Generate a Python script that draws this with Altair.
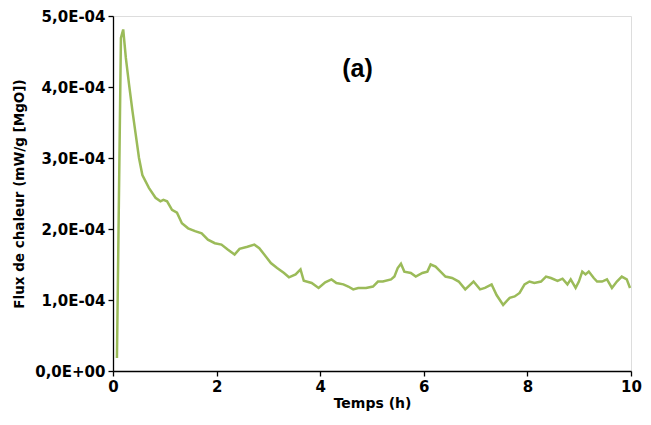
import altair as alt
import pandas as pd

# Time (h)
temps = [0.076, 0.153, 0.197, 0.248, 0.311, 0.376, 0.439, 0.502, 0.567, 0.693,
         0.821, 0.916, 0.973, 1.044, 1.139, 1.235, 1.330, 1.450, 1.584, 1.712,
         1.832, 1.966, 2.094, 2.214, 2.347, 2.443, 2.595, 2.729, 2.824, 2.920,
         3.048, 3.168, 3.302, 3.397, 3.525, 3.620, 3.683, 3.836, 3.969, 4.097,
         4.218, 4.313, 4.447, 4.542, 4.637, 4.733, 4.885, 5.019, 5.115, 5.210,
         5.368, 5.433, 5.496, 5.559, 5.624, 5.750, 5.845, 5.973, 6.069, 6.132,
         6.227, 6.323, 6.418, 6.546, 6.674, 6.800, 6.960, 7.086, 7.181, 7.309,
         7.405, 7.532, 7.658, 7.754, 7.849, 7.945, 8.040, 8.135, 8.263, 8.359,
         8.454, 8.582, 8.678, 8.773, 8.836, 8.931, 8.994, 9.059, 9.122, 9.185,
         9.281, 9.345, 9.441, 9.536, 9.632, 9.727, 9.822, 9.918, 9.981]

# Heat flow (mW/g [MgO])
flux = [0.183e-4, 4.69e-4, 4.81e-4, 4.41e-4, 4.03e-4, 3.66e-4, 3.33e-4, 3.00e-4, 2.76e-4, 2.58e-4,
        2.44e-4, 2.39e-4, 2.41e-4, 2.39e-4, 2.27e-4, 2.23e-4, 2.08e-4, 2.01e-4, 1.97e-4, 1.94e-4,
        1.85e-4, 1.80e-4, 1.78e-4, 1.71e-4, 1.64e-4, 1.72e-4, 1.75e-4, 1.78e-4, 1.73e-4, 1.64e-4,
        1.52e-4, 1.45e-4, 1.38e-4, 1.32e-4, 1.36e-4, 1.43e-4, 1.27e-4, 1.24e-4, 1.17e-4, 1.25e-4,
        1.29e-4, 1.24e-4, 1.22e-4, 1.19e-4, 1.15e-4, 1.17e-4, 1.17e-4, 1.19e-4, 1.26e-4, 1.26e-4,
        1.29e-4, 1.33e-4, 1.45e-4, 1.51e-4, 1.40e-4, 1.38e-4, 1.33e-4, 1.38e-4, 1.40e-4, 1.50e-4,
        1.47e-4, 1.40e-4, 1.33e-4, 1.31e-4, 1.26e-4, 1.15e-4, 1.26e-4, 1.15e-4, 1.17e-4, 1.22e-4,
        1.07e-4, 0.93e-4, 1.03e-4, 1.05e-4, 1.10e-4, 1.22e-4, 1.26e-4, 1.24e-4, 1.26e-4, 1.33e-4,
        1.31e-4, 1.27e-4, 1.30e-4, 1.22e-4, 1.29e-4, 1.17e-4, 1.26e-4, 1.40e-4, 1.36e-4, 1.40e-4,
        1.31e-4, 1.26e-4, 1.26e-4, 1.29e-4, 1.17e-4, 1.26e-4, 1.33e-4, 1.29e-4, 1.17e-4]

x_ticks = [0, 2, 4, 6, 8, 10]
y_ticks = [0, 1e-4, 2e-4, 3e-4, 4e-4, 5e-4]

label_text = ["(a)"]
label_x = [4.72]
label_y = [4.26e-4]

df = pd.DataFrame({"t": temps, "f": flux})
lab = pd.DataFrame({"t": label_x, "f": label_y, "txt": label_text})

x_scale = alt.Scale(domain=[0, 10], nice=False)
y_scale = alt.Scale(domain=[0, 5e-4], nice=False)

line = alt.Chart(df).mark_line(color="#9BBB59", strokeWidth=2.5).encode(
    x=alt.X("t:Q", scale=x_scale,
            axis=alt.Axis(title="Temps (h)", values=x_ticks, grid=False,
                          domainColor="black", domainWidth=1.3, tickColor="black",
                          tickSize=5, tickWidth=1.3, labelFontSize=15,
                          labelFont="DejaVu Sans", labelFontWeight="bold",
                          labelColor="black", labelPadding=3,
                          titleFont="DejaVu Sans", titleFontSize=14,
                          titleFontWeight="bold", titleColor="black", titlePadding=2,
                          labelFlush=False)),
    y=alt.Y("f:Q", scale=y_scale,
            axis=alt.Axis(title="Flux de chaleur (mW/g [MgO])", values=y_ticks, grid=False,
                          labelExpr="datum.value == 0 ? '0,0E+00' : replace(format(datum.value*10000, '.1f'), '.', ',') + 'E-04'",
                          domainColor="black", domainWidth=1.3, tickColor="black",
                          tickSize=5, tickWidth=1.3, labelFontSize=15,
                          labelFont="DejaVu Sans", labelFontWeight="bold",
                          labelColor="black", labelPadding=3,
                          titleFont="DejaVu Sans", titleFontSize=13.5,
                          titleFontWeight="bold", titleColor="black", titlePadding=8)),
)

text = alt.Chart(lab).mark_text(font="Liberation Sans", fontSize=25, fontWeight="bold",
                                color="black", align="center", baseline="middle").encode(
    x=alt.X("t:Q", scale=x_scale),
    y=alt.Y("f:Q", scale=y_scale),
    text="txt:N",
)

chart = (line + text).properties(
    width=518, height=355,
    autosize=alt.AutoSizeParams(type="none"),
    padding={"left": 105, "top": 8, "right": 12, "bottom": 42},
).configure_view(stroke=None).configure(background="white")

chart.save("out.html", embed_options={"renderer": "svg", "actions": False})
